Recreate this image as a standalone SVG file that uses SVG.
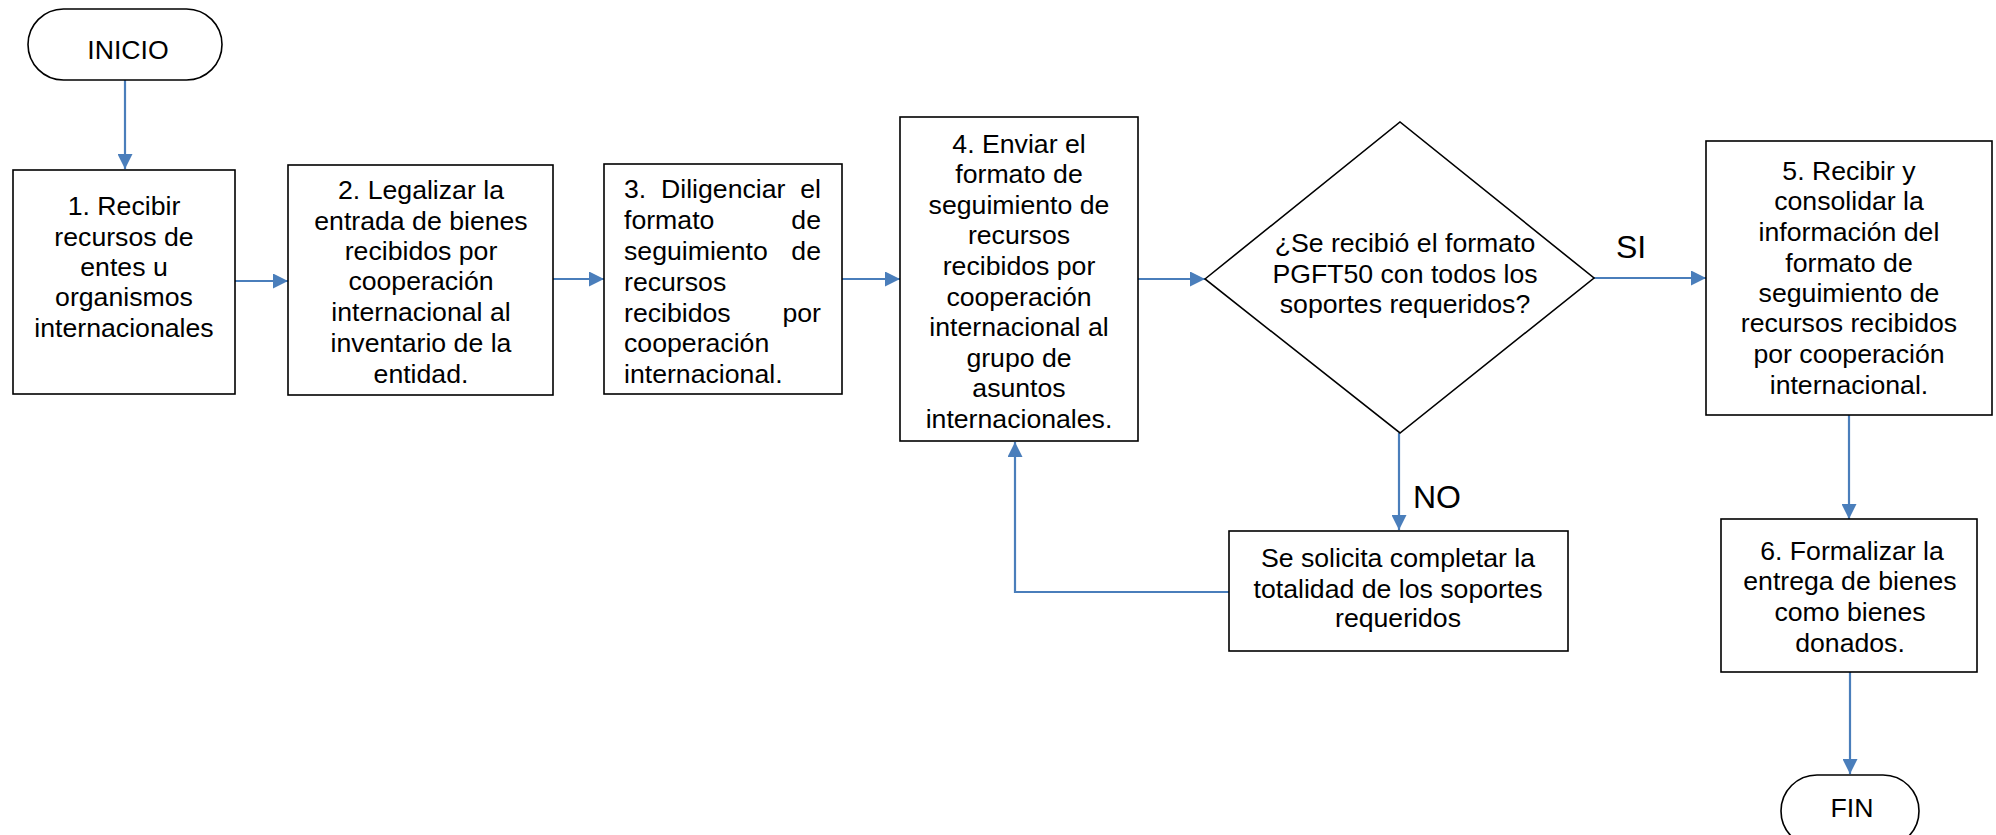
<svg xmlns="http://www.w3.org/2000/svg" width="1996" height="835" viewBox="0 0 1996 835">
<style>
.box{fill:#fff;stroke:#000;stroke-width:1.6}
.t{font-family:"Liberation Sans",Arial,sans-serif;font-size:26.67px;fill:#000}
.lbl{font-family:"Liberation Sans",Arial,sans-serif;font-size:32px;fill:#000}
.c{text-anchor:middle}
.e{text-anchor:end}
.ln{fill:none;stroke:#4A7EBB;stroke-width:2.2}
</style>
<defs>
<marker id="arr" markerWidth="15" markerHeight="15" refX="15" refY="7.5" orient="auto" markerUnits="userSpaceOnUse">
<path d="M0,0 L15,7.5 L0,15 z" fill="#4A7EBB"/>
</marker>
</defs>
<rect width="1996" height="835" fill="#fff"/>
<g id="connectors">
<path class="ln" d="M125,80 V169" marker-end="url(#arr)"/>
<path class="ln" d="M235,281 H288" marker-end="url(#arr)"/>
<path class="ln" d="M553,279 H604" marker-end="url(#arr)"/>
<path class="ln" d="M842,279 H900" marker-end="url(#arr)"/>
<path class="ln" d="M1138,279 H1205" marker-end="url(#arr)"/>
<path class="ln" d="M1594,278 H1706" marker-end="url(#arr)"/>
<path class="ln" d="M1849,415 V519" marker-end="url(#arr)"/>
<path class="ln" d="M1850,672 V774" marker-end="url(#arr)"/>
<path class="ln" d="M1399,433 V530" marker-end="url(#arr)"/>
<path class="ln" d="M1229,592 H1015 V442" marker-end="url(#arr)"/>
<text class="lbl" x="1616" y="258">SI</text>
<text class="lbl" x="1413" y="508">NO</text>
</g>
<g id="inicio">
<rect class="box" x="28" y="9" width="194" height="71" rx="35.5"/>
<text class="t c" x="128" y="59">INICIO</text>
</g>
<g id="step1">
<rect class="box" x="13" y="170" width="222" height="224"/>
<text class="t c" x="124" y="215">1. Recibir</text>
<text class="t c" x="124" y="246">recursos de</text>
<text class="t c" x="124" y="276">entes u</text>
<text class="t c" x="124" y="306">organismos</text>
<text class="t c" x="124" y="337">internacionales</text>
</g>
<g id="step2">
<rect class="box" x="288" y="165" width="265" height="230"/>
<text class="t c" x="421" y="199">2. Legalizar la</text>
<text class="t c" x="421" y="230">entrada de bienes</text>
<text class="t c" x="421" y="260">recibidos por</text>
<text class="t c" x="421" y="290">cooperación</text>
<text class="t c" x="421" y="321">internacional al</text>
<text class="t c" x="421" y="352">inventario de la</text>
<text class="t c" x="421" y="383">entidad.</text>
</g>
<g id="step3">
<rect class="box" x="604" y="164" width="238" height="230"/>
<text class="t" x="624" y="198">3.</text>
<text class="t" x="661" y="198">Diligenciar</text>
<text class="t e" x="821" y="198">el</text>
<text class="t" x="624" y="229">formato</text>
<text class="t e" x="821" y="229">de</text>
<text class="t" x="624" y="260">seguimiento</text>
<text class="t e" x="821" y="260">de</text>
<text class="t" x="624" y="291">recursos</text>
<text class="t" x="624" y="322">recibidos</text>
<text class="t e" x="821" y="322">por</text>
<text class="t" x="624" y="352">cooperación</text>
<text class="t" x="624" y="383">internacional.</text>
</g>
<g id="step4">
<rect class="box" x="900" y="117" width="238" height="324"/>
<text class="t c" x="1019" y="152.5">4. Enviar el</text>
<text class="t c" x="1019" y="183.1">formato de</text>
<text class="t c" x="1019" y="213.7">seguimiento de</text>
<text class="t c" x="1019" y="244.3">recursos</text>
<text class="t c" x="1019" y="274.9">recibidos por</text>
<text class="t c" x="1019" y="305.5">cooperación</text>
<text class="t c" x="1019" y="336.1">internacional al</text>
<text class="t c" x="1019" y="366.7">grupo de</text>
<text class="t c" x="1019" y="397.3">asuntos</text>
<text class="t c" x="1019" y="427.9">internacionales.</text>
</g>
<g id="decision">
<polygon class="box" points="1205,279 1400,122 1594,278 1400,433"/>
<text class="t c" x="1405" y="252">¿Se recibió el formato</text>
<text class="t c" x="1405" y="283">PGFT50 con todos los</text>
<text class="t c" x="1405" y="313">soportes requeridos?</text>
</g>
<g id="step5">
<rect class="box" x="1706" y="141" width="286" height="274"/>
<text class="t c" x="1849" y="180">5. Recibir y</text>
<text class="t c" x="1849" y="210">consolidar la</text>
<text class="t c" x="1849" y="241">información del</text>
<text class="t c" x="1849" y="272">formato de</text>
<text class="t c" x="1849" y="302">seguimiento de</text>
<text class="t c" x="1849" y="332">recursos recibidos</text>
<text class="t c" x="1849" y="363">por cooperación</text>
<text class="t c" x="1849" y="394">internacional.</text>
</g>
<g id="solicita">
<rect class="box" x="1229" y="531" width="339" height="120"/>
<text class="t c" x="1398" y="567">Se solicita completar la</text>
<text class="t c" x="1398" y="598">totalidad de los soportes</text>
<text class="t c" x="1398" y="627">requeridos</text>
</g>
<g id="step6">
<rect class="box" x="1721" y="519" width="256" height="153"/>
<text class="t c" x="1852" y="560">6. Formalizar la</text>
<text class="t c" x="1850" y="590">entrega de bienes</text>
<text class="t c" x="1850" y="621">como bienes</text>
<text class="t c" x="1850" y="652">donados.</text>
</g>
<g id="fin">
<rect class="box" x="1781" y="775" width="138" height="72" rx="36"/>
<text class="t c" x="1852" y="817">FIN</text>
</g>
</svg>
